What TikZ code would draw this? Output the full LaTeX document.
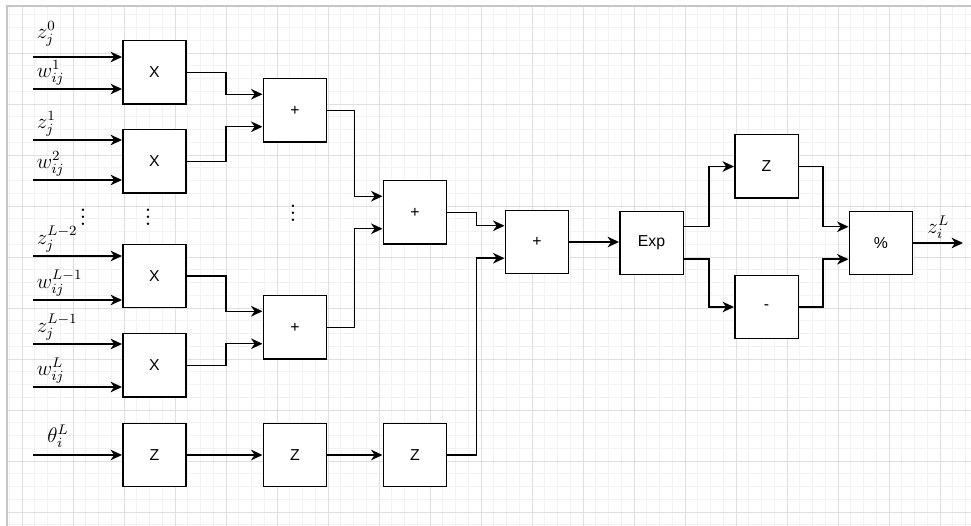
\documentclass[tikz,border=0pt]{standalone}
\usepackage{fontspec}
\newfontfamily\boxfont{Liberation Sans}
\usetikzlibrary{arrows.meta,calc}
\begin{document}
\begin{tikzpicture}[x=0.02cm,y=-0.02cm,
    b/.style={draw,line width=0.85pt,fill=white,minimum width=1.27cm,minimum height=1.27cm,inner sep=0pt,font=\boxfont\small},
    a/.style={line width=0.85pt,-{Stealth[length=6.5pt,width=6pt,inset=2pt]}},
    lbl/.style={anchor=south west,inner sep=0.8pt,yshift=1pt,xshift=1pt,font=\large},
    dots/.style={font=\Large,inner sep=0pt},
    minor/.style={gray!10,line width=0.4pt},
    major/.style={gray!25,line width=0.5pt}]
  \useasboundingbox (0,0) rectangle (971,526);
  \foreach \x in {9.25,22,...,971} \draw[minor] (\x,6) -- (\x,526);
  \foreach \y in {14.75,27.5,...,526} \draw[minor] (7,\y) -- (971,\y);
  \foreach \x in {22,73,...,971} \draw[major] (\x,6) -- (\x,526);
  \foreach \y in {53,104,...,526} \draw[major] (7,\y) -- (971,\y);
  \draw[gray!45,line width=0.6pt] (971,6) -- (7,6) -- (7,526);

  \node[b] (x1) at (154.5,72.5) {X};
  \node[b] (x2) at (154.5,161.5) {X};
  \node[b] (x3) at (154.5,276) {X};
  \node[b] (x4) at (154.5,365.5) {X};
  \node[b] (z1) at (154.5,455) {Z};
  \node[b] (p1) at (295,110.5) {+};
  \node[b] (p2) at (295,327.5) {+};
  \node[b] (z2) at (295,455) {Z};
  \node[b] (p3) at (415,212.5) {+};
  \node[b] (z3) at (415,455) {Z};
  \node[b] (p4) at (537,242) {+};
  \node[b] (ex) at (651.5,243) {Exp};
  \node[b] (zt) at (766.5,166.5) {Z};
  \node[b] (mi) at (766.5,307) {-};
  \node[b] (pc) at (881,243) {\%};

  \node[dots] (d1) at (83,212) {$\vdots$};
  \node[dots] (d2) at (148,212) {$\vdots$};
  \node[dots] (d3) at (293,208) {$\vdots$};

  \coordinate (i1) at (33,57);
  \coordinate (i2) at (33,89);
  \coordinate (i3) at (33,140);
  \coordinate (i4) at (33,180);
  \coordinate (i5) at (33,256);
  \coordinate (i6) at (33,300);
  \coordinate (i7) at (33,344);
  \coordinate (i8) at (33,387);
  \coordinate (i9) at (33,455);
  \coordinate (out) at (963,243);

  \draw[a] (i1) node[lbl,yshift=4pt] {$z_j^0$} -- (i1 -| x1.west);
  \draw[a] (i2) node[lbl] {$w_{ij}^1$} -- (i2 -| x1.west);
  \draw[a] (i3) node[lbl] {$z_j^1$} -- (i3 -| x2.west);
  \draw[a] (i4) node[lbl] {$w_{ij}^2$} -- (i4 -| x2.west);
  \draw[a] (i5) node[lbl] {$z_j^{L-2}$} -- (i5 -| x3.west);
  \draw[a] (i6) node[lbl] {$w_{ij}^{L-1}$} -- (i6 -| x3.west);
  \draw[a] (i7) node[lbl] {$z_j^{L-1}$} -- (i7 -| x4.west);
  \draw[a] (i8) node[lbl] {$w_{ij}^L$} -- (i8 -| x4.west);
  \draw[a] (i9) node[lbl,xshift=6pt,yshift=2pt] {$\theta_i^L$} -- (z1.west);

  \draw[a] (x1.east) -- ++(39,0) |- ($(p1.north west)!.25!(p1.south west)$);
  \draw[a] (x2.east) -- ++(39,0) |- ($(p1.north west)!.75!(p1.south west)$);
  \draw[a] (x3.east) -- ++(39,0) |- ($(p2.north west)!.25!(p2.south west)$);
  \draw[a] (x4.east) -- ++(39,0) |- ($(p2.north west)!.75!(p2.south west)$);
  \draw[a] (z1.east) -- (z2.west);
  \draw[a] (z2.east) -- (z3.west);

  \draw[a] (p1.east) -- ++(27,0) |- ($(p3.north west)!.25!(p3.south west)$);
  \draw[a] (p2.east) -- ++(27,0) |- ($(p3.north west)!.75!(p3.south west)$);
  \draw[a] (p3.east) -- ++(29,0) |- ($(p4.north west)!.25!(p4.south west)$);
  \draw[a] (z3.east) -- ++(29,0) |- ($(p4.north west)!.75!(p4.south west)$);
  \draw[a] (p4.east) -- (p4.east -| ex.west);

  \draw[a] ($(ex.north east)!.25!(ex.south east)$) -- ++(25,0) |- (zt.west);
  \draw[a] ($(ex.north east)!.75!(ex.south east)$) -- ++(25,0) |- (mi.west);
  \draw[a] (zt.east) -- ++(24,0) |- ($(pc.north west)!.25!(pc.south west)$);
  \draw[a] (mi.east) -- ++(24,0) |- ($(pc.north west)!.75!(pc.south west)$);
  \draw[a] (pc.east) -- node[above,inner sep=2pt,font=\large] {$z_i^L$} (out);
\end{tikzpicture}
\end{document}
